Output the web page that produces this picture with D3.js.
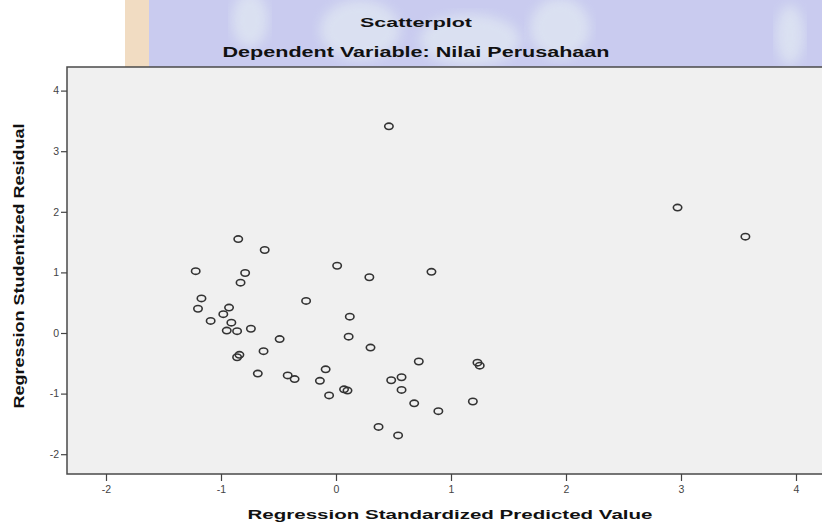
<!DOCTYPE html>
<html lang="en">
<head>
    <meta charset="UTF-8">
    <script src="https://d3js.org/d3.v7.min.js"></script>
    <style>
        body { margin: 0; background: #fff; }
        svg { display: block; font-family: "Liberation Sans", Arial, sans-serif; }
    </style>
</head>
<body>
    <svg width="822" height="526"></svg>

    <script>
        // values (x = standardized predicted, y = studentized residual)
        let predicted = [0.46, 2.97, 3.56, -0.85, -0.62, -1.22, -0.79, -0.83, 0.01, 0.29,
                         0.83, -1.17, -1.20, -0.93, -0.98, -1.09, -0.91, -0.95, -0.86, -0.74,
                         -0.26, 0.12, 0.11, -0.49, 0.30, -0.63, -0.86, -0.84, -0.68, -0.42,
                         -0.36, -0.09, -0.14, -0.06, 0.07, 0.10, 0.72, 1.23, 1.25, 0.57,
                         0.48, 0.57, 0.68, 0.89, 1.19, 0.37, 0.54];
        let residual = [3.41, 2.07, 1.59, 1.55, 1.37, 1.02, 0.99, 0.83, 1.11, 0.92,
                        1.01, 0.57, 0.40, 0.42, 0.31, 0.20, 0.17, 0.04, 0.03, 0.07,
                        0.53, 0.27, -0.06, -0.10, -0.24, -0.30, -0.40, -0.36, -0.67, -0.70,
                        -0.76, -0.60, -0.79, -1.03, -0.93, -0.95, -0.47, -0.49, -0.54, -0.73,
                        -0.78, -0.94, -1.16, -1.29, -1.13, -1.55, -1.69];
        let xTicks = [-2, -1, 0, 1, 2, 3, 4];
        let yTicks = [-2, -1, 0, 1, 2, 3, 4];

        let svg = d3.select("svg");

        // plot frame (runs off the right edge like the original)
        let plotLeft = 67, plotTop = 67, plotBottom = 474, plotRight = 840;

        let x = d3.scaleLinear().domain([-2, 4]).range([106, 796]);
        let y = d3.scaleLinear().domain([-2, 4]).range([454.2, 90.6]);

        // washed-out watermark behind the titles
        let wm = svg.append("g");
        wm.append("rect").attr("x", 125).attr("y", 0).attr("width", 697).attr("height", plotTop)
            .attr("fill", "#c9cbef");
        wm.append("rect").attr("x", 125).attr("y", 0).attr("width", 24).attr("height", plotTop)
            .attr("fill", "#f1dcc2");
        let blur = svg.append("defs").append("filter").attr("id", "soft");
        blur.append("feGaussianBlur").attr("stdDeviation", 6);
        [[360, 30, 40, 30], [470, 40, 50, 26], [560, 28, 30, 30], [250, 20, 18, 28], [790, 35, 14, 30]]
            .forEach(e => wm.append("ellipse")
                .attr("cx", e[0]).attr("cy", e[1]).attr("rx", e[2]).attr("ry", e[3])
                .attr("fill", "#dfe6f2").attr("opacity", 0.8).attr("filter", "url(#soft)"));

        // titles (the source image is stretched sideways, so glyphs are widened too)
        svg.append("text").attr("x", 416).attr("y", 27).attr("text-anchor", "middle")
            .attr("font-size", 13.5).attr("font-weight", "bold").attr("fill", "#111")
            .attr("textLength", 112).attr("lengthAdjust", "spacingAndGlyphs")
            .text("Scatterplot");
        svg.append("text").attr("x", 416).attr("y", 57).attr("text-anchor", "middle")
            .attr("font-size", 14).attr("font-weight", "bold").attr("fill", "#111")
            .attr("textLength", 387).attr("lengthAdjust", "spacingAndGlyphs")
            .text("Dependent Variable: Nilai Perusahaan");

        svg.append("rect")
            .attr("x", plotLeft).attr("y", plotTop)
            .attr("width", plotRight - plotLeft).attr("height", plotBottom - plotTop)
            .attr("fill", "#f0f0f0")
            .attr("stroke", "#4a4a4a").attr("stroke-width", 1.5);

        // axes
        let yAxis = svg.append("g")
            .attr("transform", "translate(" + plotLeft + ",0)")
            .call(d3.axisLeft(y).tickValues(yTicks).tickSize(6).tickFormat(d => String(d)));
        let xAxis = svg.append("g")
            .attr("transform", "translate(0," + plotBottom + ")")
            .call(d3.axisBottom(x).tickValues(xTicks).tickSize(7).tickFormat(d => String(d)));

        [yAxis, xAxis].forEach(a => {
            a.select(".domain").remove();
            a.selectAll(".tick line").attr("stroke", "#444").attr("stroke-width", 1.2);
            a.selectAll(".tick text").attr("fill", "#444").attr("font-size", 10.5)
                .attr("font-family", "Liberation Sans, Arial, sans-serif");
        });
        yAxis.selectAll(".tick text").attr("x", -8);
        xAxis.selectAll(".tick text").attr("y", 12);

        // axis titles
        svg.append("text").attr("x", 450).attr("y", 519).attr("text-anchor", "middle")
            .attr("font-size", 13.5).attr("font-weight", "bold").attr("fill", "#111")
            .attr("textLength", 405).attr("lengthAdjust", "spacingAndGlyphs")
            .text("Regression Standardized Predicted Value");
        svg.append("text")
            .attr("transform", "translate(24,266) rotate(-90)")
            .attr("text-anchor", "middle")
            .attr("font-size", 14).attr("font-weight", "bold").attr("fill", "#111")
            .attr("textLength", 285).attr("lengthAdjust", "spacingAndGlyphs")
            .text("Regression Studentized Residual");

        // points: hollow rings, slightly wider than tall
        svg.append("g").selectAll("ellipse")
            .data(predicted.map((p, i) => [p, residual[i]]))
            .enter()
            .append("ellipse")
            .attr("cx", d => x(d[0]))
            .attr("cy", d => y(d[1]))
            .attr("rx", 4.2)
            .attr("ry", 3.2)
            .attr("fill", "none")
            .attr("stroke", "#333")
            .attr("stroke-width", 1.6);
    </script>
</body>
</html>
